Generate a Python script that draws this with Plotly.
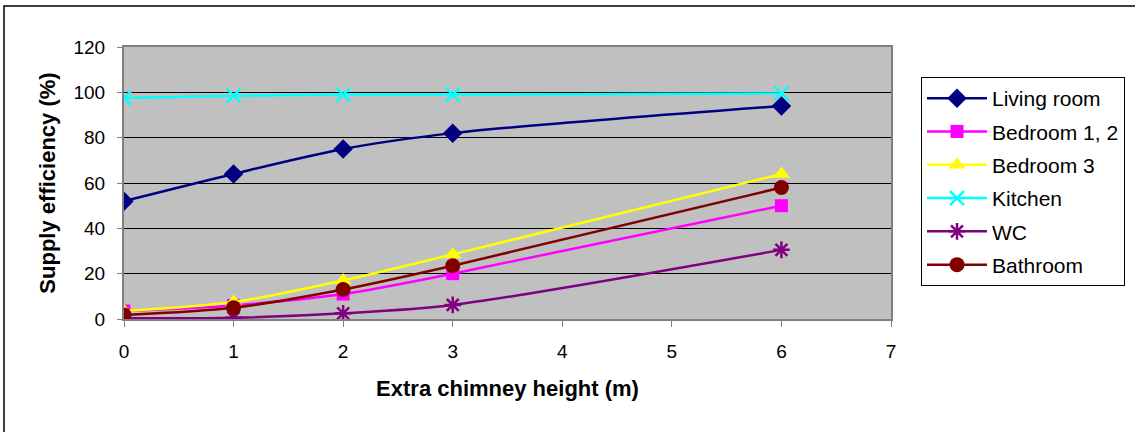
import plotly.graph_objects as go

heights = [0, 1, 2, 3, 6]
living_room = [52, 64, 75, 82, 94]
bedroom_12 = [3.5, 6, 11, 20, 50]
bedroom_3 = [3.5, 7.5, 17, 28.5, 64]
kitchen = [97.5, 98.5, 99, 99, 99.5]
wc = [0.3, 0.5, 2.5, 6.2, 30.5]
bathroom = [1.8, 5, 13, 23.5, 58]

series = [
    ("Living room", living_room, "#000080", "diamond", 15),
    ("Bedroom 1, 2", bedroom_12, "#FF00FF", "square", 13),
    ("Bedroom 3", bedroom_3, "#FFFF00", "triangle-up", 15),
    ("Kitchen", kitchen, "#00FFFF", "x-thin-open", 14),
    ("WC", wc, "#800080", "asterisk-open", 14),
    ("Bathroom", bathroom, "#800000", "circle", 15),
]

fig = go.Figure()
for name, vals, color, sym, size in series:
    open_sym = sym.endswith("open")
    fig.add_trace(go.Scatter(
        x=heights, y=vals, name=name, mode="lines+markers",
        legendgroup=name,
        line=dict(color=color, width=2.5, shape="spline", smoothing=0.8),
        marker=dict(symbol=sym, size=size, color=color,
                    line=dict(color=color, width=2.5 if open_sym else 0)),
    ))

W, H = 1135, 432
L, R, T, B = 124, 891, 47, 319
pw, ph = R - L, B - T

def px(x):
    return (x - L) / pw

def py(y):
    return (B - y) / ph

fig.update_layout(
    width=W, height=H,
    margin=dict(l=L, r=W - R, t=T, b=H - B, pad=0),
    paper_bgcolor="white",
    plot_bgcolor="#C0C0C0",
    font=dict(family="Liberation Sans, Arial", color="black"),
    showlegend=True,
    legend=dict(
        xref="container", yref="container",
        x=921 / W, y=1 - 77 / H, xanchor="left", yanchor="top",
        bgcolor="white", bordercolor="black", borderwidth=1,
        font=dict(size=21, family="Liberation Sans, Arial", color="black"),
        traceorder="grouped", tracegroupgap=3, itemwidth=60,
    ),
    xaxis=dict(
        range=[0, 7], tickvals=list(range(8)), showgrid=False, zeroline=False,
        showline=True, linecolor="#808080", linewidth=2, mirror=True,
        ticks="outside", ticklen=6, tickcolor="#808080", tickwidth=1,
        tickfont=dict(size=19), ticklabelstandoff=8,
        title=dict(text="<b>Extra chimney height (m)</b>", font=dict(size=22), standoff=20),
    ),
    yaxis=dict(
        range=[0, 120], tickvals=list(range(0, 121, 20)), showgrid=True,
        gridcolor="black", gridwidth=1, zeroline=False,
        showline=True, linecolor="#808080", linewidth=2, mirror=True,
        ticks="outside", ticklen=5, tickcolor="#808080", tickwidth=1,
        tickfont=dict(size=19), ticklabelstandoff=8,
        title=dict(text="<b>Supply efficiency (%)</b>", font=dict(size=22), standoff=12),
    ),
)

fig.add_shape(type="rect", xref="paper", yref="paper",
              x0=px(4), x1=px(1145), y0=py(6), y1=py(445),
              line=dict(color="black", width=1.5), fillcolor="rgba(0,0,0,0)", layer="below")

fig.write_html("out.html", config={"displayModeBar": False},
               post_script="document.body.style.margin='0';")
